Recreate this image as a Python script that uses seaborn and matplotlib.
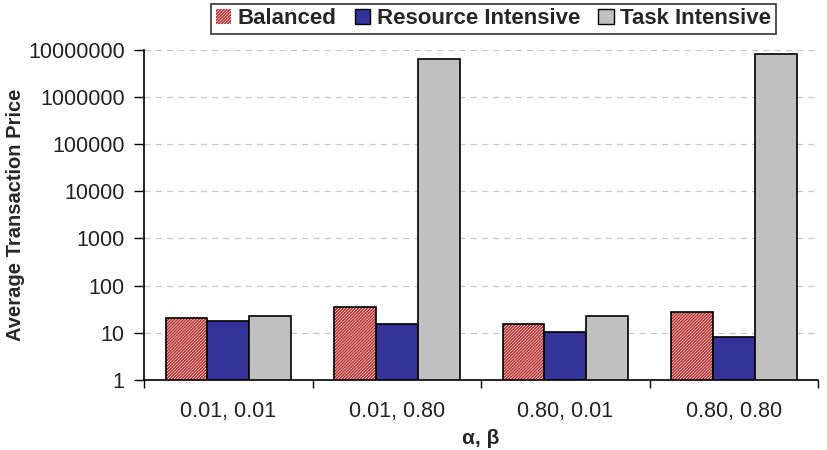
import pandas as pd
import matplotlib.pyplot as plt
import seaborn as sns
from matplotlib.patches import Patch, Rectangle
from matplotlib.ticker import FixedLocator, NullLocator

# values
groups = ['0.01, 0.01', '0.01, 0.80', '0.80, 0.01', '0.80, 0.80']
series = ['Balanced', 'Resource Intensive', 'Task Intensive']
balanced = [20, 35, 15, 27]
resource = [17.5, 15.3, 10.2, 8]
task = [22.3, 6.4e6, 22.5, 8.2e6]

colors = {'Balanced': 'white', 'Resource Intensive': '#333399', 'Task Intensive': '#c0c0c0'}
hatch_red = '#b52a2a'
hatch = '/' * 11

df = pd.DataFrame({
    'group': groups * 3,
    'series': [s for s in series for _ in groups],
    'value': balanced + resource + task,
})

sns.set_style('white')
plt.rcParams['font.family'] = ['Liberation Sans', 'DejaVu Sans']
plt.rcParams['hatch.linewidth'] = 1.1

fig = plt.figure(figsize=(8.28, 4.5), dpi=100)
ax = fig.add_axes([0.174, 0.156, 0.814, 0.733])

sns.barplot(data=df, x='group', y='value', hue='series', order=groups, hue_order=series,
            palette=colors, width=0.745, gap=0, edgecolor='black', linewidth=1.2,
            saturation=1, legend=False, ax=ax)
ax.set_yscale('log')

# hatch the Balanced bars in red, then put a black outline back on
bars = [p for p in ax.patches if isinstance(p, Rectangle)]
for p in bars[:len(groups)]:
    p.set_hatch(hatch)
    p.set_edgecolor(hatch_red)
    p.set_linewidth(0)
    ax.add_patch(Rectangle((p.get_x(), p.get_y()), p.get_width(), p.get_height(),
                           fill=False, edgecolor='black', linewidth=1.2, zorder=p.get_zorder() + 0.1))

ax.set_ylim(1, 1e7)
ax.set_xlim(-0.5, len(groups) - 0.5)
ax.yaxis.set_major_locator(FixedLocator([10 ** i for i in range(8)]))
ax.yaxis.set_minor_locator(NullLocator())
ax.set_yticklabels([str(10 ** i) for i in range(8)])
ax.xaxis.set_minor_locator(FixedLocator([i - 0.5 for i in range(len(groups) + 1)]))

ax.yaxis.grid(True, color='#c8c8c8', linestyle=(0, (5, 4)), linewidth=0.9)
ax.set_axisbelow(True)
for s in ['top', 'right']:
    ax.spines[s].set_visible(False)
for s in ['left', 'bottom']:
    ax.spines[s].set_color('black')
    ax.spines[s].set_linewidth(1.2)

ax.tick_params(axis='y', which='major', length=7, width=1, color='black', labelsize=15.5, pad=7, direction='out', left=True)
ax.tick_params(axis='x', which='major', length=0, labelsize=15.5, pad=15)
ax.tick_params(axis='x', which='minor', length=6, width=1, color='black', direction='out', bottom=True)
for lbl in ax.get_yticklabels() + ax.get_xticklabels():
    lbl.set_color('#222222')

ax.set_xlabel('α, β', fontsize=15, fontweight='bold', labelpad=5)
ax.set_ylabel('Average Transaction Price', fontsize=14.5, fontweight='bold', labelpad=2)

handles = [Patch(facecolor='white', edgecolor=hatch_red, hatch=hatch, linewidth=0),
           Patch(facecolor=colors['Resource Intensive'], edgecolor='black'),
           Patch(facecolor=colors['Task Intensive'], edgecolor='black')]
leg = fig.legend(handles, series, loc='center', bbox_to_anchor=(0.596, 0.958), ncol=3,
                 frameon=True, fancybox=False, edgecolor='black', handlelength=0.7,
                 handleheight=0.7, handletextpad=0.3, columnspacing=0.8, borderpad=0.2,
                 prop={'weight': 'bold', 'size': 16})
leg.get_frame().set_linewidth(1.2)

fig.savefig('out.png', dpi=100)
